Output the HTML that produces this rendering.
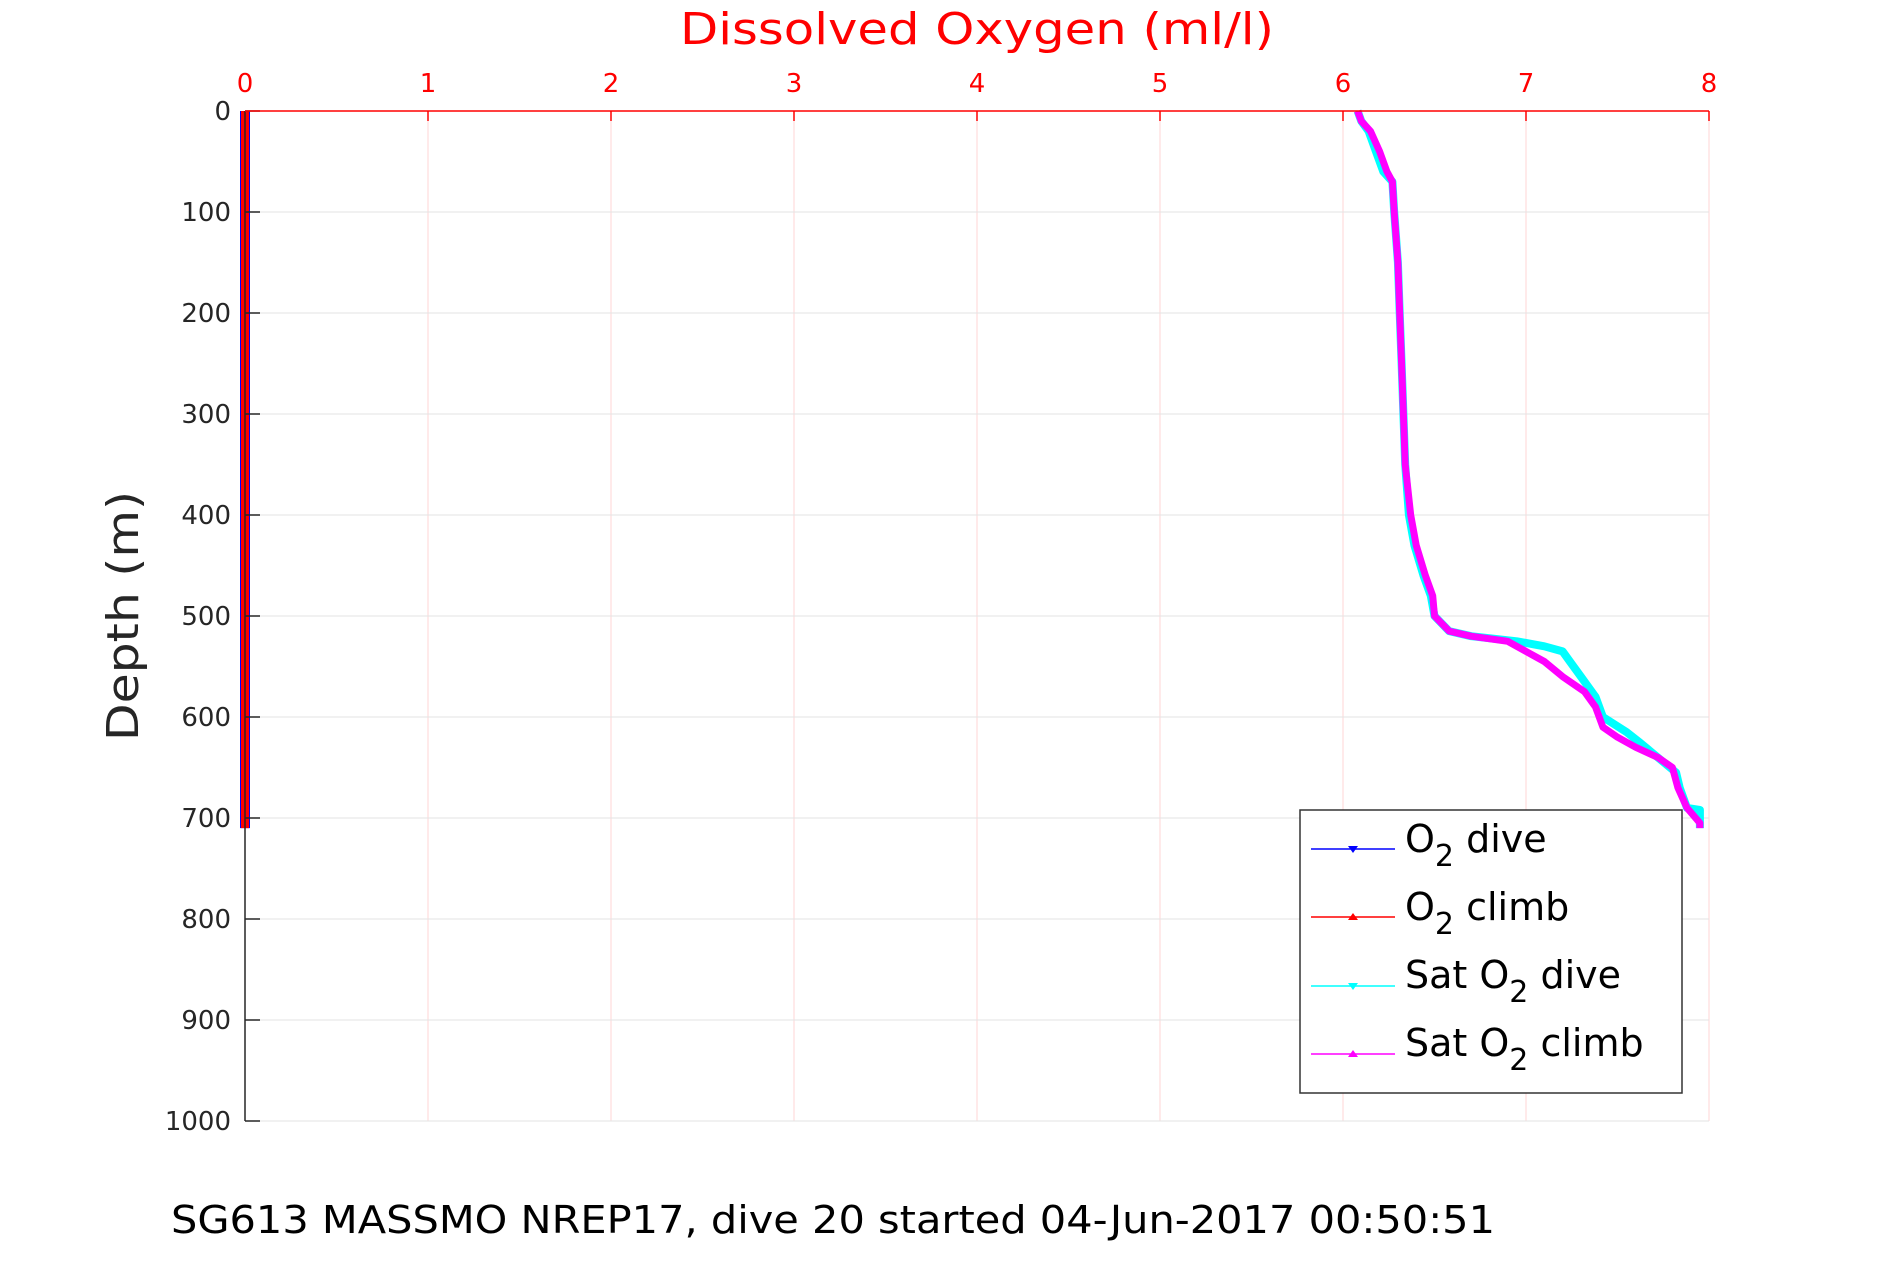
<!DOCTYPE html>
<html><head><meta charset="utf-8"><style>
html,body{margin:0;padding:0;background:#fff;}
svg text{font-family:"DejaVu Sans","Liberation Sans",sans-serif;}
</style></head><body>
<svg id="chart" width="1890" height="1260" viewBox="0 0 1890 1260" xmlns="http://www.w3.org/2000/svg">
<g id="grid"></g>
<g id="series"></g>
<g id="axes"></g>
<text x="977" y="44" text-anchor="middle" font-size="44" fill="#ff0000" textLength="594" lengthAdjust="spacingAndGlyphs">Dissolved Oxygen (ml/l)</text>
<text transform="translate(138,616) rotate(-90)" text-anchor="middle" font-size="44" fill="#262626" textLength="250" lengthAdjust="spacingAndGlyphs">Depth (m)</text>
<text x="171" y="1233" font-size="38" fill="#000" textLength="1324" lengthAdjust="spacingAndGlyphs">SG613 MASSMO NREP17, dive 20 started 04-Jun-2017 00:50:51</text>
<g>
<rect x="1300" y="810" width="382" height="283" fill="#fff" stroke="#333" stroke-width="1.5"/>
<g><line x1="1311" y1="849" x2="1395" y2="849" stroke="#0000ff" stroke-width="1.5"/><path d="M1348,846 L1358,846 L1353,853 Z" fill="#0000ff"/><text x="1405" y="852" font-size="38">O<tspan dy="14" font-size="30">2</tspan><tspan dy="-14"> dive</tspan></text></g>
<g><line x1="1311" y1="917" x2="1395" y2="917" stroke="#ff0000" stroke-width="1.5"/><path d="M1348,920 L1358,920 L1353,913 Z" fill="#ff0000"/><text x="1405" y="920" font-size="38">O<tspan dy="14" font-size="30">2</tspan><tspan dy="-14"> climb</tspan></text></g>
<g><line x1="1311" y1="986" x2="1395" y2="986" stroke="#00ffff" stroke-width="1.5"/><path d="M1348,983 L1358,983 L1353,990 Z" fill="#00ffff"/><text x="1405" y="988" font-size="38">Sat O<tspan dy="14" font-size="30">2</tspan><tspan dy="-14"> dive</tspan></text></g>
<g><line x1="1311" y1="1054" x2="1395" y2="1054" stroke="#ff00ff" stroke-width="1.5"/><path d="M1348,1057 L1358,1057 L1353,1050 Z" fill="#ff00ff"/><text x="1405" y="1056" font-size="38">Sat O<tspan dy="14" font-size="30">2</tspan><tspan dy="-14"> climb</tspan></text></g>
</g>
</svg>
<script>
const xTicks=[0,1,2,3,4,5,6,7,8];
const yTicks=[0,100,200,300,400,500,600,700,800,900,1000];
const o2Depth=[0,100,200,300,400,500,600,710];
const o2DiveVals=[0,0,0,0,0,0,0,0];
const o2ClimbVals=[0,0,0,0,0,0,0,0];
const satDiveDepth=[0,10,20,40,60,70,100,150,200,250,300,350,400,430,460,480,500,515,520,525,530,535,545,560,580,600,615,625,640,655,670,690,692,705,710];
const satDiveVals=[6.08,6.1,6.14,6.18,6.22,6.27,6.28,6.3,6.31,6.32,6.33,6.34,6.36,6.39,6.44,6.48,6.5,6.58,6.7,6.95,7.1,7.2,7.24,7.3,7.38,7.42,7.55,7.62,7.72,7.82,7.84,7.88,7.95,7.95,7.95];
const satClimbDepth=[0,10,20,40,60,70,100,150,200,250,300,350,400,430,460,480,500,515,520,525,535,545,560,575,590,610,620,630,640,650,670,690,705,710];
const satClimbVals=[6.08,6.1,6.15,6.2,6.24,6.27,6.28,6.3,6.31,6.32,6.33,6.34,6.37,6.4,6.45,6.49,6.5,6.58,6.7,6.9,7.0,7.1,7.2,7.32,7.38,7.42,7.5,7.6,7.72,7.8,7.83,7.88,7.95,7.95];
const X0=245,X1=1709,Y0=111,Y1=1121;
const xs=v=>X0+(v-0)/8*(X1-X0);
const ys=d=>Y0+d/1000*(Y1-Y0);
const NS="http://www.w3.org/2000/svg";
function mk(tag,parent,attrs){const e=document.createElementNS(NS,tag);for(const k in attrs)e.setAttribute(k,attrs[k]);parent.appendChild(e);return e;}
const grid=document.getElementById('grid'),axes=document.getElementById('axes'),series=document.getElementById('series');
xTicks.forEach(t=>{
 const g=mk('line',grid,{x1:xs(t),x2:xs(t),y1:Y0,y2:Y1,stroke:'#ffd6d6','stroke-width':1});
 
 
 const tk=mk('line',axes,{x1:xs(t),x2:xs(t),y1:Y0,y2:Y0+10,stroke:'#ff0000','stroke-width':1.5});
 
 
 const lb=mk('text',axes,{x:xs(t),y:Y0-19,'text-anchor':'middle','font-size':26,fill:'#ff0000'});
 
 
 lb.textContent=t;
});
yTicks.forEach(t=>{
 const g=mk('line',grid,{x1:X0,x2:X1,y1:ys(t),y2:ys(t),stroke:'#e3e3e3','stroke-width':1});
 
 
 const tk=mk('line',axes,{x1:X0,x2:X0+15,y1:ys(t),y2:ys(t),stroke:'#262626','stroke-width':1.5});
 
 
 const lb=mk('text',axes,{x:X0-14,y:ys(t)+9,'text-anchor':'end','font-size':26,fill:'#262626'});
 
 
 lb.textContent=t;
});
const ax=mk('line',axes,{x1:X0,x2:X0,y1:Y0,y2:Y1,stroke:'#262626','stroke-width':1.5});


const tx=mk('line',axes,{x1:X0,x2:X1,y1:Y0,y2:Y0,stroke:'#ff0000','stroke-width':1.5});


function line(dep,vals,color,w,name){
 const pts=dep.map((d,i)=>xs(vals[i]).toFixed(1)+','+ys(d).toFixed(1)).join(' ');
 const p=mk('polyline',series,{points:pts,fill:'none',stroke:color,'stroke-width':w,'stroke-linejoin':'round'});
 
 
}
line(o2Depth,o2DiveVals,'#0000ff',10,'o2-dive-line');
line(o2Depth,o2ClimbVals,'#ff0000',8,'o2-climb-line');
line(satDiveDepth,satDiveVals,'#00ffff',8,'sat-o2-dive-line');
line(satClimbDepth,satClimbVals,'#ff00ff',7,'sat-o2-climb-line');
</script>
</body></html>
